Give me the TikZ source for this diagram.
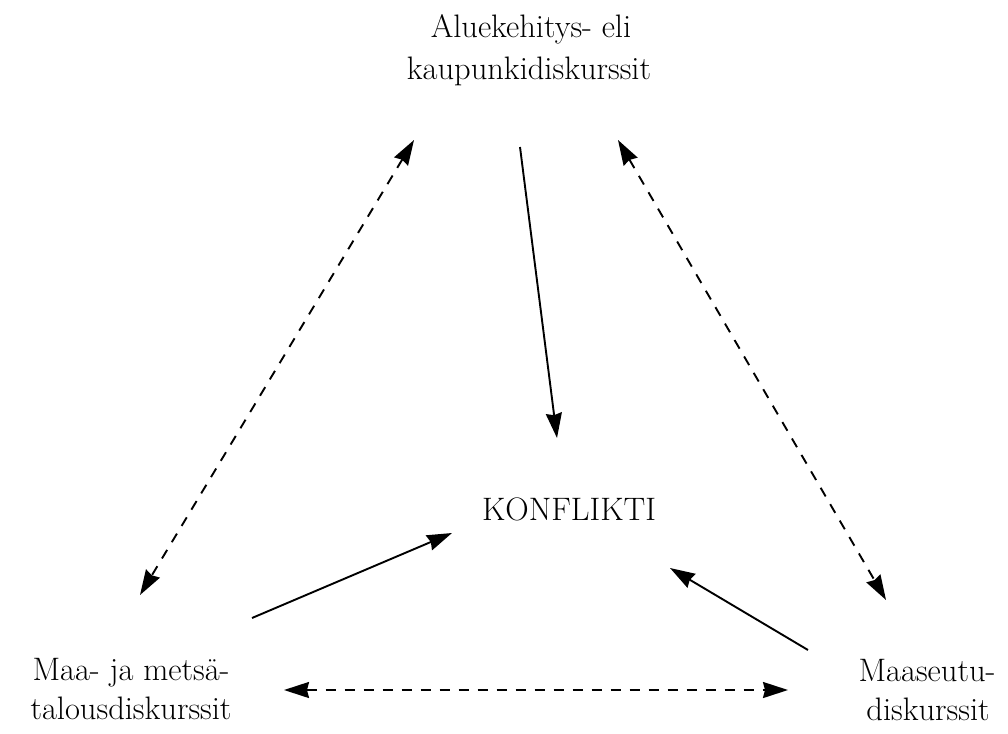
\documentclass[tikz,border=0pt]{standalone}
\usetikzlibrary{arrows.meta}
\begin{document}
\begin{tikzpicture}[x=1pt,y=-1pt,
  lbl/.style={font=\fontsize{32.5}{41}\selectfont, align=center, inner sep=0pt, anchor=base},
  conn/.style={line width=1.9pt, -{Stealth[length=25pt,width=16pt,inset=2pt]}},
  biconn/.style={line width=1.9pt, dash pattern=on 10pt off 9pt,
     {Stealth[length=25pt,width=16pt,inset=2pt]}-{Stealth[length=25pt,width=16pt,inset=2pt]}}]
\useasboundingbox (0,0) rectangle (1008,733);
% text nodes
\node[lbl] (top1) at (531,38) {Aluekehitys- eli};
\node[lbl] (top2) at (529,80) {kaupunkidiskurssit};
\node[lbl] (konf) at (569,520) {KONFLIKTI};
\node[lbl] (left1) at (131,680) {Maa- ja metsä-};
\node[lbl] (left2) at (131,719) {talousdiskurssit};
\node[lbl] (right1) at (927,681) {Maaseutu-};
\node[lbl] (right2) at (928,720) {diskurssit};
% connector end points
\coordinate (tl) at (414,140);
\coordinate (lt) at (140,595);
\coordinate (ts) at (520,147);
\coordinate (kt) at (557,438);
\coordinate (tr) at (618,140);
\coordinate (rt) at (886,600);
\coordinate (ls) at (252,618);
\coordinate (kl) at (452,533);
\coordinate (rs) at (808,650);
\coordinate (kr) at (670,568);
\coordinate (bl) at (284,690);
\coordinate (br) at (788,690);
% connectors
\draw[biconn] (tl) -- (lt);
\draw[conn] (ts) -- (kt);
\draw[biconn] (tr) -- (rt);
\draw[conn] (ls) -- (kl);
\draw[conn] (rs) -- (kr);
\draw[biconn] (bl) -- (br);
\end{tikzpicture}
\end{document}
